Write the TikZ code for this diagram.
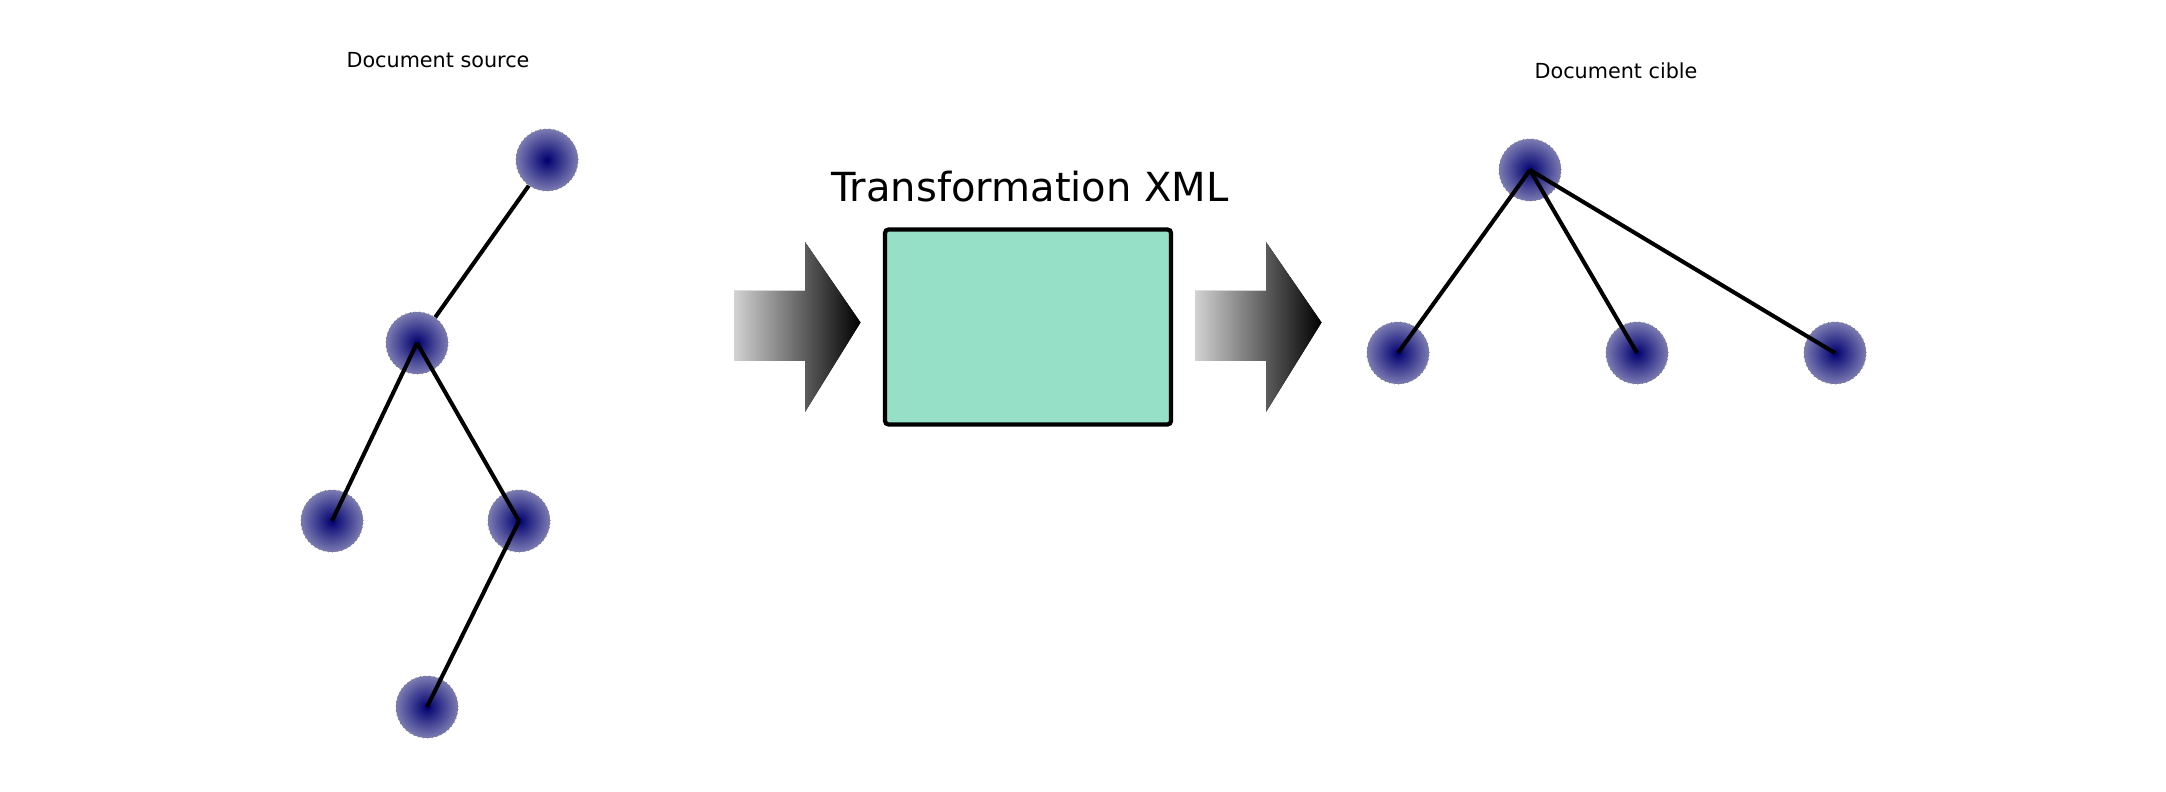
\documentclass[tikz,border=0pt]{standalone}
\usepackage{fontspec}
\setmainfont{DejaVu Sans}
\usepackage{tikz}
\usetikzlibrary{positioning}
\definecolor{boxgreen}{HTML}{96E0C8}
\definecolor{nodecore}{HTML}{000070}
\definecolor{nodeedge}{HTML}{7B7BB2}
\tikzset{
  elem/.style={circle, minimum size=0.62cm, inner sep=0pt, shading=radial, inner color=nodecore, outer color=nodeedge, draw=gray, line width=0.3pt, densely dotted},
  link/.style={line width=1.15pt},
  fat/.style={left color=gray!35, right color=black},
  small/.style={font=\fontsize{5.9pt}{7pt}\selectfont},
}

\begin{document}
\begin{tikzpicture}
    \useasboundingbox (0, 0) rectangle (21.66, 7.92);
    % document source
    \node [small, anchor=base] (srct) at (4.38, 7.24) {Document source};
    \node [elem] (sa) at (5.47, 6.32) {};
    \node [elem] (sb) at (4.17, 4.49) {};
    \node [elem] (sc) at (3.32, 2.71) {};
    \node [elem] (sd) at (5.19, 2.71) {};
    \node [elem] (se) at (4.27, 0.85) {};
    \draw [link] (sa) to (sb);
    \draw [link] (sb.center) to (sc.center);
    \draw [link] (sb.center) to (sd.center);
    \draw [link] (sd.center) to (se.center);
    % transformation
    \node [anchor=base] (trt) at (10.30, 5.90) {\fontsize{11.4pt}{13pt}\selectfont Transformation XML};
    \node [draw, line width=1.2pt, fill=boxgreen, rounded corners=1pt, minimum width=2.86cm, minimum height=1.95cm, inner sep=0pt] (xsl) at (10.28, 4.65) {};
    \fill [fat] (7.34, 5.01) -- (8.05, 5.01) -- (8.05, 5.50) -- (8.605, 4.695) -- (8.05, 3.80) -- (8.05, 4.31) -- (7.34, 4.31) -- cycle;
    \fill [fat] (11.95, 5.01) -- (12.66, 5.01) -- (12.66, 5.50) -- (13.215, 4.695) -- (12.66, 3.80) -- (12.66, 4.31) -- (11.95, 4.31) -- cycle;
    % document cible
    \node [small, anchor=base] (tgtt) at (16.16, 7.13) {Document cible};
    \node [elem] (ta) at (15.30, 6.22) {};
    \node [elem] (tb) at (13.98, 4.39) {};
    \node [elem] (tc) at (16.37, 4.39) {};
    \node [elem] (td) at (18.35, 4.39) {};
    \draw [link] (ta.center) to (tb.center);
    \draw [link] (ta.center) to (tc.center);
    \draw [link] (ta.center) to (td.center);
\end{tikzpicture}
\end{document}
